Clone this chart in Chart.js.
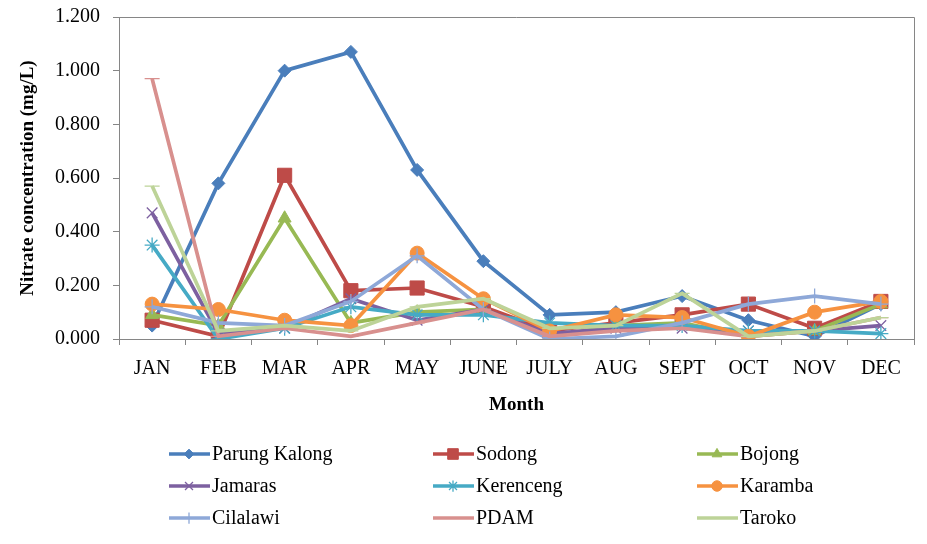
<!DOCTYPE html>
<html>
<head>
<meta charset="utf-8">
<script src="https://cdn.jsdelivr.net/npm/chart.js@4/dist/chart.umd.min.js"></script>
<style>
html,body{margin:0;padding:0;background:#fff;}
#wrap{width:927px;height:544px;position:relative;}
</style>
</head>
<body>
<div id="wrap"><canvas id="c" width="927" height="544"></canvas></div>
<script>
const months = ["JAN","FEB","MAR","APR","MAY","JUNE","JULY","AUG","SEPT","OCT","NOV","DEC"];
const seriesNames = ["Parung Kalong","Sodong","Bojong","Jamaras","Kerenceng","Karamba","Cilalawi","PDAM","Taroko"];
const parungKalong = [0.05,0.58,1.00,1.07,0.63,0.29,0.09,0.10,0.16,0.07,0.01,0.13];
const sodong       = [0.07,0.01,0.61,0.18,0.19,0.12,0.03,0.06,0.09,0.13,0.04,0.14];
const bojong       = [0.09,0.05,0.45,0.06,0.10,0.11,0.01,0.05,0.06,0.01,0.03,0.13];
const jamaras      = [0.47,0.02,0.04,0.15,0.07,0.11,0.02,0.04,0.04,0.03,0.03,0.05];
const kerenceng    = [0.35,0.00,0.04,0.12,0.09,0.09,0.06,0.05,0.05,0.03,0.03,0.02];
const karamba      = [0.13,0.11,0.07,0.05,0.32,0.15,0.03,0.09,0.08,0.01,0.10,0.14];
const cilalawi     = [0.12,0.06,0.05,0.14,0.31,0.11,0.00,0.01,0.06,0.13,0.16,0.13];
const pdam         = [0.97,0.01,0.04,0.01,0.06,0.11,0.01,0.03,0.04,0.01,0.03,0.08];
const taroko       = [0.57,0.03,0.05,0.03,0.12,0.15,0.04,0.05,0.17,0.01,0.03,0.08];
const yTicks = [0,0.2,0.4,0.6,0.8,1.0,1.2];

const values = [parungKalong,sodong,bojong,jamaras,kerenceng,karamba,cilalawi,pdam,taroko];
const colors = ["#4A7EBB","#BE4B48","#98B954","#7D60A0","#46AAC5","#F69240","#8EA8D8","#D8908E","#BDD398"];
const styles = ["rectRot","rect","triangle","crossRot","star","circle","cross","line","line"];
const radii  = [6.5,10,7.5,7.5,7.5,7,7.5,7.5,7.5];
const thinStyles = ["crossRot","star","cross","line"];

const FONT = "'Liberation Serif','Times New Roman',serif";
const LW = 3.7;

const datasets = values.map((v,i)=>({
  label: seriesNames[i],
  data: v,
  borderColor: colors[i],
  backgroundColor: colors[i],
  borderWidth: LW,
  pointStyle: styles[i],
  pointRadius: radii[i],
  pointBorderWidth: thinStyles.includes(styles[i]) ? 1.3 : 1,
  pointBorderColor: colors[i],
  pointBackgroundColor: colors[i],
  tension: 0,
  order: -i
}));

const legendPlugin = {
  id: 'customLegend',
  afterDraw(chart){
    const ctx = chart.ctx;
    const colX = [169, 433, 697];
    const rowY = [454, 486, 518];
    ctx.save();
    const a = chart.chartArea;
    ctx.strokeStyle = '#868686';
    ctx.lineWidth = 1;
    ctx.beginPath();
    ctx.moveTo(a.left, a.top+0.5); ctx.lineTo(a.right+0.5, a.top+0.5); ctx.lineTo(a.right+0.5, a.bottom);
    ctx.stroke();
    seriesNames.forEach((name,i)=>{
      const x = colX[i%3], y = rowY[Math.floor(i/3)];
      ctx.strokeStyle = colors[i];
      ctx.fillStyle = colors[i];
      ctx.lineWidth = LW;
      ctx.beginPath(); ctx.moveTo(x,y); ctx.lineTo(x+41,y); ctx.stroke();
      if (styles[i] !== 'line') {
        ctx.lineWidth = datasets[i].pointBorderWidth;
        Chart.helpers.drawPoint(ctx, {pointStyle: styles[i], radius: radii[i]*0.75, rotation: 0, borderWidth: datasets[i].pointBorderWidth}, x+20, y);
      }
      ctx.fillStyle = '#000';
      ctx.font = "20px " + FONT;
      ctx.textBaseline = 'middle';
      ctx.textAlign = 'left';
      ctx.fillText(name, x+43, y+1);
    });
    ctx.restore();
  }
};

new Chart(document.getElementById('c'), {
  type: 'line',
  data: { labels: months, datasets },
  plugins: [legendPlugin],
  options: {
    responsive: false,
    animation: false,
    layout: { padding: { top: 17, right: 13, left: 0, bottom: 124 } },
    plugins: { legend: { display: false }, tooltip: { enabled: false } },
    scales: {
      x: {
        offset: true,
        grid: { drawOnChartArea: false, offset: true, tickLength: 6, color: '#868686' },
        border: { color: '#868686' },
        ticks: { color: '#000', font: { family: FONT, size: 20 }, padding: 12, maxRotation: 0, autoSkip: false },
        title: { display: true, text: 'Month', color: '#000', font: { family: FONT, size: 19, weight: 'bold' }, padding: { top: 4, bottom: 4 } },
        afterFit(s){ s.height = 81; s.paddingLeft = 0; s.paddingRight = 0; }
      },
      y: {
        min: 0, max: 1.2,
        afterBuildTicks(s){ s.ticks = yTicks.map(v=>({value:v})); },
        grid: { drawOnChartArea: false, tickLength: 6, color: '#868686' },
        border: { color: '#868686' },
        ticks: { color: '#000', font: { family: FONT, size: 20 }, padding: 13, callback: v => Number(v).toFixed(3) },
        title: { display: true, text: 'Nitrate concentration (mg/L)', color: '#000', font: { family: FONT, size: 19, weight: 'bold' }, padding: { top: 17, bottom: 0 } },
        afterFit(s){ s.width = 119; s.paddingTop = 0; s.paddingBottom = 0; }
      }
    }
  }
});
</script>
</body>
</html>
